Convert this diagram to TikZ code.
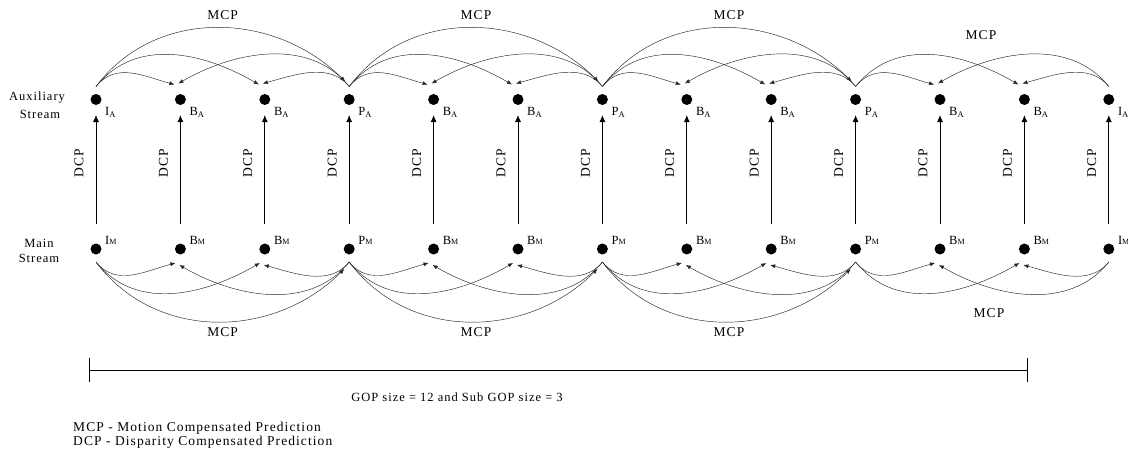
\documentclass[tikz,border=0pt]{standalone}
\usepackage{fontspec}
\setmainfont{Liberation Serif}[LetterSpace=8]
\usetikzlibrary{arrows.meta}
\begin{document}
\begin{tikzpicture}[x=1pt,y=-1pt,
  dot/.style={circle,fill=black,minimum size=11pt,inner sep=0pt},
  mcp/.style={-{Latex[length=5pt,width=4pt]},line width=0.45pt,draw=black!85},
  dcp/.style={-{Latex[length=7pt,width=6pt]},line width=0.9pt},
  lbl/.style={font=\fontsize{12.5}{14}\selectfont,inner sep=0pt},
  big/.style={font=\fontsize{13.5}{15}\selectfont,inner sep=0pt},
  txt/.style={font=\fontsize{13.5}{15}\selectfont,inner sep=0pt}]
\useasboundingbox (0,0) rectangle (1128,451);
% columns
\foreach \i/\l in {0/I,1/B,2/B,3/P,4/B,5/B,6/P,7/B,8/B,9/P,10/B,11/B,12/I}{
  \node[dot] (a\i) at ({96+84.4*\i},99.5) {};
  \node[dot] (m\i) at ({96+84.4*\i},249) {};
  \draw[dcp] ([yshift=25pt]m\i.center) -- ([yshift=-15.5pt]a\i.center);
  \node[lbl,anchor=base west] (la\i) at ([xshift=9pt,yshift=-15.5pt]a\i.center)
     {\l\raisebox{-2.5pt}{\fontsize{8.5}{9}\selectfont A}};
  \node[lbl,anchor=base west] (lm\i) at ([xshift=9pt,yshift=5pt]m\i.center)
     {\l\raisebox{-0.5pt}{\fontsize{8}{9}\selectfont M}};
  \node[big,rotate=90] (d\i) at ([xshift=-17pt,yshift=-63.5pt]a\i.center) {DCP};
}
% full sub-GOP segments
\foreach \s in {0,1,2}{
  \pgfmathtruncatemacro{\L}{3*\s}
  \pgfmathtruncatemacro{\P}{3*\s+1}
  \pgfmathtruncatemacro{\Q}{3*\s+2}
  \pgfmathtruncatemacro{\R}{3*\s+3}
  % top
  \draw[mcp] ([yshift=13pt]a\L.center) .. controls +(20,-25) and +(-30,-8) .. ([xshift=-6pt,yshift=15pt]a\P.center);
  \draw[mcp] ([yshift=13pt]a\L.center) .. controls +(40,-50) and +(-55,-32) .. ([xshift=-6pt,yshift=15pt]a\Q.center);
  \draw[mcp] ([yshift=13pt]a\L.center) .. controls +(60,-80) and +(-70,-70) .. ([xshift=-4pt,yshift=18pt]a\R.center);
  \draw[mcp] ([yshift=13pt]a\R.center) .. controls +(-40,-50) and +(55,-32) .. ([xshift=-2pt,yshift=16pt]a\P.center);
  \draw[mcp] ([yshift=13pt]a\R.center) .. controls +(-20,-25) and +(30,-8) .. ([xshift=-2pt,yshift=16pt]a\Q.center);
  % bottom
  \draw[mcp] ([yshift=-13pt]m\L.center) .. controls +(20,25) and +(-30,8) .. ([xshift=-5pt,yshift=-14pt]m\P.center);
  \draw[mcp] ([yshift=-13pt]m\L.center) .. controls +(40,50) and +(-55,32) .. ([xshift=-5pt,yshift=-14pt]m\Q.center);
  \draw[mcp] ([yshift=-13pt]m\L.center) .. controls +(60,80) and +(-70,70) .. ([xshift=-5pt,yshift=-20pt]m\R.center);
  \draw[mcp] ([yshift=-13pt]m\R.center) .. controls +(-40,50) and +(55,32) .. ([xshift=-1pt,yshift=-16pt]m\P.center);
  \draw[mcp] ([yshift=-13pt]m\R.center) .. controls +(-20,25) and +(30,8) .. ([xshift=-1pt,yshift=-16pt]m\Q.center);
}
% last segment
\draw[mcp] ([yshift=13pt]a9.center) .. controls +(20,-25) and +(-30,-8) .. ([xshift=-6pt,yshift=15pt]a10.center);
\draw[mcp] ([yshift=13pt]a9.center) .. controls +(40,-50) and +(-55,-32) .. ([xshift=-6pt,yshift=15pt]a11.center);
\draw[mcp] ([yshift=13pt]a12.center) .. controls +(-40,-50) and +(55,-32) .. ([xshift=-2pt,yshift=16pt]a10.center);
\draw[mcp] ([yshift=13pt]a12.center) .. controls +(-20,-25) and +(30,-8) .. ([xshift=-2pt,yshift=16pt]a11.center);
\draw[mcp] ([yshift=-13pt]m9.center) .. controls +(20,25) and +(-30,8) .. ([xshift=-5pt,yshift=-14pt]m10.center);
\draw[mcp] ([yshift=-13pt]m9.center) .. controls +(40,50) and +(-55,32) .. ([xshift=-5pt,yshift=-14pt]m11.center);
\draw[mcp] ([yshift=-13pt]m12.center) .. controls +(-40,50) and +(55,32) .. ([xshift=-1pt,yshift=-16pt]m10.center);
\draw[mcp] ([yshift=-13pt]m12.center) .. controls +(-20,25) and +(30,8) .. ([xshift=-1pt,yshift=-16pt]m11.center);
% MCP labels
\node[big] (t0) at (222.6,15) {MCP};
\node[big] (t1) at (476,15) {MCP};
\node[big] (t2) at (729,15) {MCP};
\node[big] (t3) at (981,35) {MCP};
\node[big] (b0) at (222.6,332) {MCP};
\node[big] (b1) at (476,332) {MCP};
\node[big] (b2) at (729,332) {MCP};
\node[big] (b3) at (989,313) {MCP};
% stream labels
\node[lbl] (aux1) at (37,98) {Auxiliary};
\node[lbl] (aux2) at (40,114) {Stream};
\node[lbl] (main1) at (39,243) {Main};
\node[lbl] (main2) at (39,258) {Stream};
% GOP bar
\coordinate (g0) at (89,370);
\coordinate (g1) at (1027,370);
\draw[line width=0.6pt] (g0) -- (g1);
\draw[line width=0.9pt] ([yshift=12pt]g0) -- ([yshift=-12pt]g0);
\draw[line width=0.9pt] ([yshift=12pt]g1) -- ([yshift=-12pt]g1);
\node[font=\fontsize{12.5}{14}\selectfont,inner sep=0pt] (gop) at (457,397) {GOP size = 12 and Sub GOP size = 3};
% legend
\node[txt,anchor=base west] (leg1) at (73,431) {MCP - Motion Compensated Prediction};
\node[txt,anchor=base west] (leg2) at (73,445) {DCP - Disparity Compensated Prediction};
\end{tikzpicture}
\end{document}
